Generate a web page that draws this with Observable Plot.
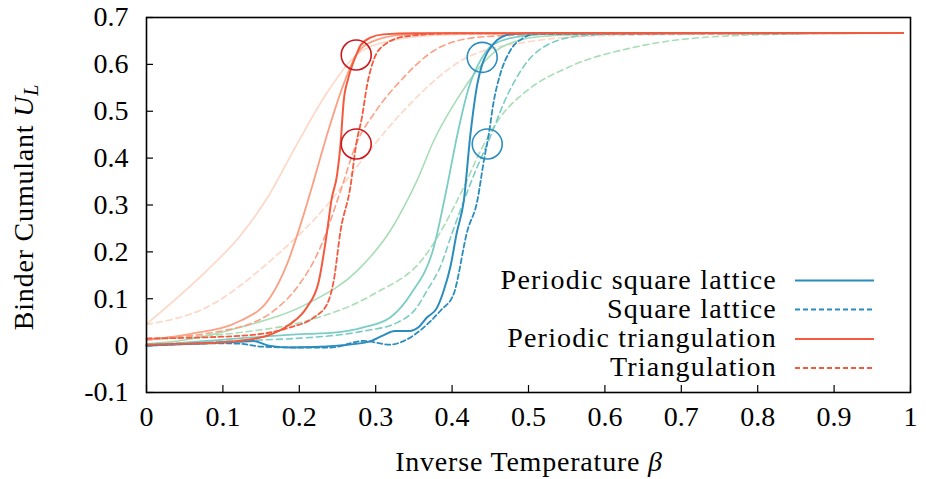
<!DOCTYPE html>
<html><head><meta charset="utf-8">
<script src="https://cdn.jsdelivr.net/npm/d3@7"></script>
<script src="https://cdn.jsdelivr.net/npm/@observablehq/plot@0.6"></script>
<style>
body{margin:0;background:#fff;}
#wrap{position:relative;width:926px;height:479px;}
</style></head><body><div id="wrap"></div>
<script>
// ---- data ----
const xTicks = [0,0.1,0.2,0.3,0.4,0.5,0.6,0.7,0.8,0.9,1];
const yTicks = [-0.1,0,0.1,0.2,0.3,0.4,0.5,0.6,0.7];

// Periodic square lattice (solid), three sizes
const psqS_b = [0,0.05,0.123,0.21,0.276,0.319,0.341,0.354,0.376,0.411,0.439,0.46,0.485,0.52,0.6,0.7,0.99];
const psqS_u = [0.004,0.012,0.039,0.089,0.16,0.245,0.309,0.352,0.437,0.537,0.6,0.632,0.65,0.66,0.665,0.6665,0.6667];
const psqM_b = [0,0.079,0.21,0.241,0.284,0.319,0.346,0.376,0.3935,0.407,0.422,0.4394,0.4546,0.494,0.55,0.99];
const psqM_u = [0.0,0.01,0.025,0.027,0.039,0.06,0.11,0.21,0.34,0.451,0.551,0.615,0.643,0.661,0.666,0.6667];
const psqL_b = [0,0.06,0.12,0.14,0.16,0.19,0.22,0.25,0.29,0.31,0.325,0.345,0.355,0.367,0.38,0.389,0.398,0.406,0.4153,0.424,0.433,0.4394,0.446,0.459,0.476,0.52,0.99];
const psqL_u = [0.0,0.004,0.008,0.01,0.0,-0.004,-0.003,0.0,0.008,0.022,0.031,0.031,0.038,0.06,0.08,0.117,0.17,0.24,0.309,0.451,0.558,0.6,0.625,0.652,0.664,0.6667,0.6667];

// Square lattice (dashed), three sizes
const sqS_b = [0,0.05,0.123,0.21,0.2975,0.363,0.415,0.437,0.463,0.498,0.551,0.637,0.725,0.85,0.99];
const sqS_u = [0.012,0.018,0.028,0.053,0.11,0.188,0.337,0.415,0.487,0.544,0.593,0.636,0.657,0.665,0.6667];
const sqM_b = [0,0.079,0.241,0.284,0.328,0.354,0.367,0.385,0.4,0.43,0.446,0.474,0.498,0.529,0.57,0.65,0.99];
const sqM_u = [0.003,0.008,0.021,0.031,0.049,0.082,0.117,0.17,0.24,0.37,0.43,0.54,0.605,0.645,0.661,0.666,0.6667];
const sqL_b = [0,0.1,0.123,0.15,0.2,0.241,0.284,0.319,0.337,0.363,0.385,0.402,0.42,0.433,0.4415,0.448,0.4546,0.463,0.476,0.494,0.51,0.99];
const sqL_u = [0.0,0.005,0.004,-0.002,-0.004,-0.004,0.01,0.002,0.01,0.039,0.075,0.11,0.245,0.309,0.394,0.451,0.522,0.579,0.629,0.657,0.665,0.6667];

// Periodic triangulation (solid), three sizes
const ptrS_b = [0,0.036,0.079,0.123,0.158,0.197,0.2365,0.2745,0.319,0.38,0.5,0.99];
const ptrS_u = [0.046,0.096,0.16,0.235,0.315,0.43,0.54,0.62,0.65,0.662,0.666,0.6667];
const ptrM_b = [0,0.058,0.123,0.162,0.184,0.206,0.219,0.2365,0.258,0.2745,0.2975,0.341,0.4,0.99];
const ptrM_u = [0.012,0.025,0.053,0.103,0.174,0.281,0.352,0.451,0.558,0.62,0.65,0.664,0.6665,0.6667];
const ptrL_b = [0,0.05,0.1,0.13,0.158,0.188,0.21,0.2256,0.2365,0.242,0.2496,0.254,0.258,0.264,0.2745,0.28,0.293,0.31,0.35,0.99];
const ptrL_u = [0.002,0.004,0.007,0.012,0.021,0.046,0.082,0.138,0.245,0.31,0.366,0.43,0.52,0.57,0.62,0.64,0.657,0.664,0.6665,0.6667];

// Triangulation (dashed), three sizes
const trS_b = [0,0.079,0.167,0.2365,0.2745,0.3325,0.42,0.507,0.594,0.725,0.99];
const trS_u = [0.045,0.082,0.188,0.3,0.38,0.494,0.615,0.65,0.661,0.664,0.6667];
const trM_b = [0,0.101,0.167,0.197,0.2277,0.254,0.2745,0.3,0.3325,0.376,0.42,0.463,0.55,0.99];
const trM_u = [0.015,0.032,0.075,0.124,0.21,0.33,0.43,0.5,0.565,0.629,0.655,0.661,0.665,0.6667];
const trL_b = [0,0.123,0.188,0.219,0.2365,0.245,0.254,0.267,0.2745,0.282,0.289,0.2975,0.31,0.34,0.4,0.99];
const trL_u = [0.015,0.021,0.039,0.06,0.089,0.138,0.245,0.34,0.43,0.487,0.558,0.61,0.64,0.66,0.666,0.6667];

// crossing markers
const markB = [0.2745,0.2745,0.4394,0.446];
const markU = [0.62,0.43,0.615,0.43];
const markKind = ["tri","tri","sq","sq"];

const legendLabels = ["Periodic square lattice","Square lattice","Periodic triangulation","Triangulation"];

// ---- styles ----
const C = {gnS:"#a8ddb5", gnM:"#7bccc4", gnL:"#2b8cbe", rdS:"#fdd6c4", rdM:"#fca084", rdL:"#f35a3e"};
const series = [
  {b:trS_b,u:trS_u,c:C.rdS,d:"6,4",w:1.6},
  {b:ptrS_b,u:ptrS_u,c:C.rdS,d:null,w:1.6},
  {b:sqS_b,u:sqS_u,c:C.gnS,d:"6,4",w:1.6},
  {b:psqS_b,u:psqS_u,c:C.gnS,d:null,w:1.6},
  {b:trM_b,u:trM_u,c:C.rdM,d:"6,4",w:1.6},
  {b:ptrM_b,u:ptrM_u,c:C.rdM,d:null,w:1.8},
  {b:sqM_b,u:sqM_u,c:C.gnM,d:"6,4",w:1.6},
  {b:psqM_b,u:psqM_u,c:C.gnM,d:null,w:1.8},
  {b:sqL_b,u:sqL_u,c:C.gnL,d:"5,3",w:1.8},
  {b:psqL_b,u:psqL_u,c:C.gnL,d:null,w:2},
  {b:trL_b,u:trL_u,c:C.rdL,d:"5,3",w:1.8},
  {b:ptrL_b,u:ptrL_u,c:C.rdL,d:null,w:2},
];

const W=926,H=479,mL=146,mR=16,mT=17,mB=87;
const fw=W-mL-mR, fh=H-mT-mB;
const fmt = d => String(+(+d).toFixed(1));
const font = "Liberation Serif";
const FS = 28;

const lineMarks = series.map(s => Plot.line(s.b.map((b,i)=>({b, u:s.u[i]})), {
  x:"b", y:"u", stroke:s.c, strokeWidth:s.w, strokeDasharray:s.d, curve:"monotone-x"
}));
const marks = markB.map((b,i)=>({b, u:markU[i], k:markKind[i]}));

const chart = Plot.plot({
  width:W, height:H, marginLeft:mL, marginRight:mR, marginTop:mT, marginBottom:mB,
  x:{domain:[0,1]}, y:{domain:[-0.1,0.7]},
  style:{fontFamily:font, fontSize:FS+"px", background:"white", color:"black"},
  marks:[
    Plot.axisX(xTicks,{tickSize:0, tickPadding:14, tickFormat:fmt, label:null, fontSize:FS}),
    Plot.axisY(yTicks,{tickSize:0, tickPadding:18, tickFormat:fmt, label:null, fontSize:FS}),
    Plot.tickX(xTicks,{x:d=>d, insetTop:fh-7, stroke:"black", strokeWidth:1.2}),
    Plot.tickY(yTicks,{y:d=>d, insetRight:fw-7, stroke:"black", strokeWidth:1.2}),
    ...lineMarks,
    Plot.dot(marks,{x:"b", y:"u", r:15, fill:"none", strokeWidth:1.6, stroke:d=>d.k==="tri"?"#cb181d":"#2b8cbe"}),
    Plot.frame({stroke:"black", strokeWidth:1.6})
  ]
});
document.getElementById("wrap").appendChild(chart);

// titles and legend
const svg = d3.select(chart);
const yt = svg.append("text").attr("transform","translate(33,207) rotate(-90)")
  .attr("text-anchor","middle").attr("font-family",font).attr("font-size",FS)
  .attr("letter-spacing",0.8).attr("fill","black");
yt.append("tspan").text("Binder Cumulant ");
yt.append("tspan").attr("font-style","italic").text("U");
yt.append("tspan").attr("font-style","italic").attr("font-size",20).attr("dy",5).text("L");
const xt = svg.append("text").attr("x",529).attr("y",471)
  .attr("text-anchor","middle").attr("font-family",font).attr("font-size",FS)
  .attr("letter-spacing",0.8).attr("fill","black");
xt.append("tspan").text("Inverse Temperature ");
xt.append("tspan").attr("font-style","italic").text("β");

const legColors = [C.gnL, C.gnL, C.rdL, C.rdL];
const legDash = [null,"5,3",null,"5,3"];
const legY = [280.5,309.5,339,368];
const lg = svg.append("g");
legendLabels.forEach((t,i)=>{
  lg.append("text").attr("x",777).attr("y",legY[i]+8).attr("text-anchor","end")
    .attr("font-family",font).attr("font-size",FS).attr("letter-spacing",1.2)
    .attr("fill","black").text(t);
  lg.append("line").attr("x1",795).attr("x2",874).attr("y1",legY[i]).attr("y2",legY[i])
    .attr("stroke",legColors[i]).attr("stroke-width",1.8).attr("stroke-dasharray",legDash[i]);
});
</script>
</body></html>
